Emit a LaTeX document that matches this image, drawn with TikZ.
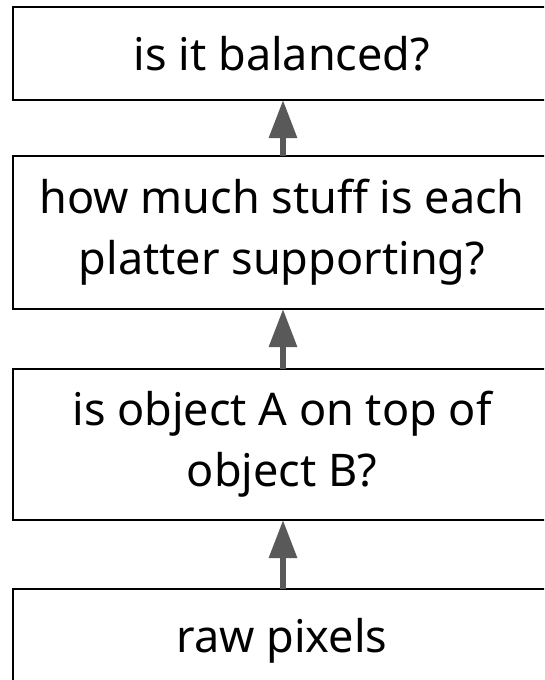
\documentclass[tikz,border=0pt]{standalone}
\usepackage{fontspec}
\setmainfont{Noto Sans}
\usetikzlibrary{arrows.meta}
\definecolor{arrowgray}{HTML}{595959}
\begin{document}
\begin{tikzpicture}[x=1pt,y=-1pt,
  stage/.style={draw=black, line width=1.6pt, fill=white, inner sep=0pt, outer sep=0pt,
    minimum width=538pt, align=center,
    font=\fontsize{45}{61}\selectfont},
  uparrow/.style={draw=arrowgray, line width=6pt,
    -{Triangle[length=38pt,width=27pt,fill=arrowgray]}}]
  \useasboundingbox (0,0) rectangle (544,680);
  \clip (0,0) rectangle (544,680);
  % the four stages, from top to bottom
  \node[stage, minimum height=93pt]  (balanced) at (282,53.5) {is it balanced?};
  \node[stage, minimum height=153pt] (stuff)    at (282,232.5) {how much stuff is each\\platter supporting?};
  \node[stage, minimum height=151pt] (ontop)    at (282,444.5) {is object A on top of\\object B?};
  \node[stage, minimum height=104pt] (pixels)   at (282,641) {raw pixels};
  % arrows pointing up from each stage to the next
  \draw[uparrow] ([xshift=1pt]stuff.north)  -- ([xshift=1pt]balanced.south);
  \draw[uparrow] ([xshift=1pt]ontop.north)  -- ([xshift=1pt]stuff.south);
  \draw[uparrow] ([xshift=1pt]pixels.north) -- ([xshift=1pt]ontop.south);
\end{tikzpicture}
\end{document}
